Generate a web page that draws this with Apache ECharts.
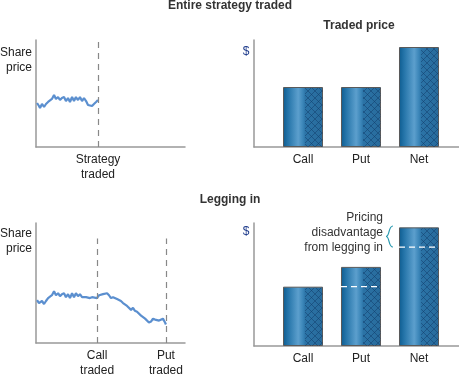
<!DOCTYPE html>
<html>
<head>
<meta charset="utf-8">
<script src="https://cdn.jsdelivr.net/npm/echarts@6/dist/echarts.min.js"></script>
<style>
  html, body { margin: 0; padding: 0; background: #fff; }
  #chart { width: 459px; height: 378px; }
</style>
</head>
<body>
<div id="chart"></div>
<script>
// share price paths, x = time (0-100), y = price level
const priceWhole = [
  [0.7,41.1],[2.0,38.3],[2.7,36.4],[4.0,40.2],[5.4,37.4],[6.7,40.2],[8.1,42.1],[9.4,43.9],
  [10.7,44.9],[12.1,48.6],[13.4,44.9],[14.8,46.7],[16.1,43.9],[17.4,45.8],[18.8,46.7],[20.1,42.9],
  [21.5,45.8],[22.8,42.1],[24.2,46.7],[25.5,42.9],[26.8,46.7],[28.2,43.9],[29.5,46.7],[30.9,42.9],
  [32.2,45.8],[33.6,42.9],[34.9,39.3],[36.2,38.3],[37.6,38.3],[38.9,40.2],[40.3,42.1],[41.6,43.9]
]
const priceLegging = [
  [0.7,35.8],[2.0,33.3],[2.7,32.5],[4.0,35.0],[5.4,32.5],[6.7,35.0],[8.1,37.4],[9.4,39.0],
  [10.7,39.8],[12.1,43.1],[13.4,39.8],[14.8,41.5],[16.1,39.0],[17.4,40.7],[18.8,41.5],[20.1,38.2],
  [21.5,40.7],[22.8,37.4],[24.2,41.5],[25.5,38.2],[26.8,41.5],[28.2,39.0],[29.5,40.7],[30.9,38.2],
  [32.2,39.8],[33.6,38.2],[34.9,39.0],[36.2,37.4],[37.6,38.2],[38.9,36.6],[40.9,37.4],[42.3,39.8],
  [43.6,39.0],[45.0,40.7],[46.3,41.5],[47.7,41.5],[49.0,39.8],[50.3,37.4],[51.7,38.2],[53.0,39.0],
  [54.4,36.6],[55.7,35.8],[57.0,35.0],[58.4,33.3],[59.7,32.5],[61.1,30.9],[62.4,29.3],[63.8,27.6],
  [65.1,29.3],[66.4,26.8],[67.8,26.0],[69.1,24.4],[70.5,22.8],[71.8,22.0],[73.2,20.3],[74.5,18.7],
  [75.8,17.1],[77.2,17.9],[78.5,20.3],[79.9,19.5],[81.2,21.1],[82.6,18.7],[83.9,19.5],[85.2,20.3],
  [86.6,17.1],[87.2,15.4]
]
// trade moments on the time axis
const tradeWhole = [41.6]
const tradeWholeLabels = ['Strategy\ntraded']
const tradeLegging = [41, 87.2]
const tradeLeggingLabels = ['Call\ntraded', 'Put\ntraded']

// traded prices
const legs = ['Call', 'Put', 'Net']
const priceWholeBars = [3, 3, 5]
const priceLeggingBars = [3, 4, 6]
// what each leg would have cost without legging in
const priceNoLegging = [[2, 3], [3, 5]]

const chart = echarts.init(document.getElementById('chart'))
const FONT = '"Liberation Sans", Arial, sans-serif'
const axisGray = '#999'
const lineBlue = '#5b8fcf'

const barFill = new echarts.graphic.LinearGradient(0, 0, 1, 0, [
  { offset: 0, color: '#0e5c8f' },
  { offset: 0.12, color: '#2373a8' },
  { offset: 0.38, color: '#5c9fcd' },
  { offset: 0.5, color: '#3a85b8' },
  { offset: 0.56, color: '#2b73a6' },
  { offset: 1, color: '#286b9c' }
])

// small cross hatch tile for the right half of the bars
const tile = document.createElement('canvas')
tile.width = 7
tile.height = 7
const tc = tile.getContext('2d')
tc.strokeStyle = 'rgba(15,60,105,0.5)'
tc.lineWidth = 1
tc.beginPath()
tc.moveTo(0, 0); tc.lineTo(7, 7)
tc.moveTo(7, 0); tc.lineTo(0, 7)
tc.stroke()

function valueX(gridIndex, min, max, customValues, labels) {
  return {
    type: 'value', gridIndex, min, max,
    axisLine: { show: true, lineStyle: { color: axisGray, width: 1.5 } },
    axisTick: { show: false },
    splitLine: { show: false },
    axisLabel: {
      customValues,
      formatter: v => labels[customValues.indexOf(v)] || '',
      color: '#222', fontSize: 12, fontFamily: FONT, lineHeight: 15, margin: 5
    }
  }
}
function valueY(gridIndex, max) {
  return {
    type: 'value', gridIndex, min: 0, max,
    axisLine: { show: true, lineStyle: { color: axisGray, width: 1.5 } },
    axisTick: { show: false },
    axisLabel: { show: false },
    splitLine: { show: false }
  }
}
function tradeLines(xs, top) {
  return {
    silent: true, symbol: 'none', label: { show: false },
    lineStyle: { color: '#888', type: [6, 5], width: 1.2 },
    data: xs.map(x => [{ coord: [x, 0] }, { coord: [x, top] }])
  }
}
function bars(xAxisIndex, yAxisIndex, values) {
  return {
    type: 'bar', xAxisIndex, yAxisIndex, barWidth: 40,
    data: values.map((v, i) => [i + 1, v]),
    itemStyle: { color: barFill, borderColor: '#5a5a5a', borderWidth: 1 },
    silent: true
  }
}
function hatch(xAxisIndex, yAxisIndex, values) {
  return {
    type: 'custom', xAxisIndex, yAxisIndex, silent: true, z: 4,
    data: values.map((v, i) => [i + 1, v]),
    renderItem(params, api) {
      const top = api.coord([api.value(0), api.value(1)])
      const base = api.coord([api.value(0), 0])
      return {
        type: 'rect',
        shape: { x: top[0] + 2, y: top[1] + 1, width: 17.5, height: base[1] - top[1] - 1 },
        style: { fill: { image: tile, repeat: 'repeat' } }
      }
    }
  }
}

chart.setOption({
  animation: false,
  textStyle: { fontFamily: FONT },
  grid: [
    { left: 36, top: 40, width: 149, height: 107 },
    { left: 254, top: 40, width: 205, height: 107 },
    { left: 36, top: 223, width: 149, height: 123 },
    { left: 254, top: 223, width: 205, height: 123 }
  ],
  xAxis: [
    valueX(0, 0, 100, tradeWhole, tradeWholeLabels),
    valueX(1, 0.155, 3.69, [1, 2, 3], legs),
    valueX(2, 0, 100, tradeLegging, tradeLeggingLabels),
    valueX(3, 0.155, 3.69, [1, 2, 3], legs)
  ],
  yAxis: [valueY(0, 100), valueY(1, 5.35), valueY(2, 100), valueY(3, 6.22)],
  series: [
    {
      type: 'line', xAxisIndex: 0, yAxisIndex: 0, data: priceWhole,
      showSymbol: false, lineStyle: { color: lineBlue, width: 2.2 }, silent: true,
      markLine: tradeLines(tradeWhole, 100)
    },
    {
      type: 'line', xAxisIndex: 2, yAxisIndex: 2, data: priceLegging,
      showSymbol: false, lineStyle: { color: lineBlue, width: 2.2 }, silent: true,
      markLine: tradeLines(tradeLegging, 87)
    },
    bars(1, 1, priceWholeBars),
    hatch(1, 1, priceWholeBars),
    bars(3, 3, priceLeggingBars),
    hatch(3, 3, priceLeggingBars),
    {
      type: 'custom', xAxisIndex: 3, yAxisIndex: 3, silent: true, z: 5,
      data: priceNoLegging,
      renderItem(params, api) {
        const p = api.coord([api.value(0), api.value(1)])
        return {
          type: 'line',
          shape: { x1: p[0] - 20, y1: p[1], x2: p[0] + 20, y2: p[1] },
          style: { stroke: '#fff', lineWidth: 1.3, lineDash: [6, 4] }
        }
      }
    }
  ],
  graphic: [
    { type: 'text', x: 230, y: 6, style: { text: 'Entire strategy traded', font: 'bold 12px ' + FONT, fill: '#333', align: 'center', verticalAlign: 'middle' } },
    { type: 'text', x: 359, y: 26, style: { text: 'Traded price', font: 'bold 12px ' + FONT, fill: '#333', align: 'center', verticalAlign: 'middle' } },
    { type: 'text', x: 230, y: 200, style: { text: 'Legging in', font: 'bold 12px ' + FONT, fill: '#333', align: 'center', verticalAlign: 'middle' } },
    { type: 'text', x: 32, y: 45, style: { text: 'Share\nprice', font: '12px ' + FONT, fill: '#222', align: 'right', lineHeight: 15 } },
    { type: 'text', x: 32, y: 226, style: { text: 'Share\nprice', font: '12px ' + FONT, fill: '#222', align: 'right', lineHeight: 15 } },
    { type: 'text', x: 246, y: 52, style: { text: '$', font: '12px ' + FONT, fill: '#1f3c8c', align: 'center', verticalAlign: 'middle' } },
    { type: 'text', x: 246, y: 232, style: { text: '$', font: '12px ' + FONT, fill: '#1f3c8c', align: 'center', verticalAlign: 'middle' } },
    { type: 'text', x: 383, y: 210, style: { text: 'Pricing\ndisadvantage\nfrom legging in', font: '12px ' + FONT, fill: '#333', align: 'right', lineHeight: 15 } },
    {
      type: 'group', x: 386, y: 226,
      children: [
        { type: 'bezierCurve', shape: { x1: 7, y1: 0, cpx1: 2, cpy1: 0, cpx2: 4, cpy2: 10.5, x2: 0, y2: 10.5 }, style: { fill: 'none', stroke: '#2a9ab0', lineWidth: 1.2 } },
        { type: 'bezierCurve', shape: { x1: 0, y1: 10.5, cpx1: 4, cpy1: 10.5, cpx2: 2, cpy2: 21, x2: 7, y2: 21 }, style: { fill: 'none', stroke: '#2a9ab0', lineWidth: 1.2 } }
      ]
    }
  ]
})
</script>
</body>
</html>
